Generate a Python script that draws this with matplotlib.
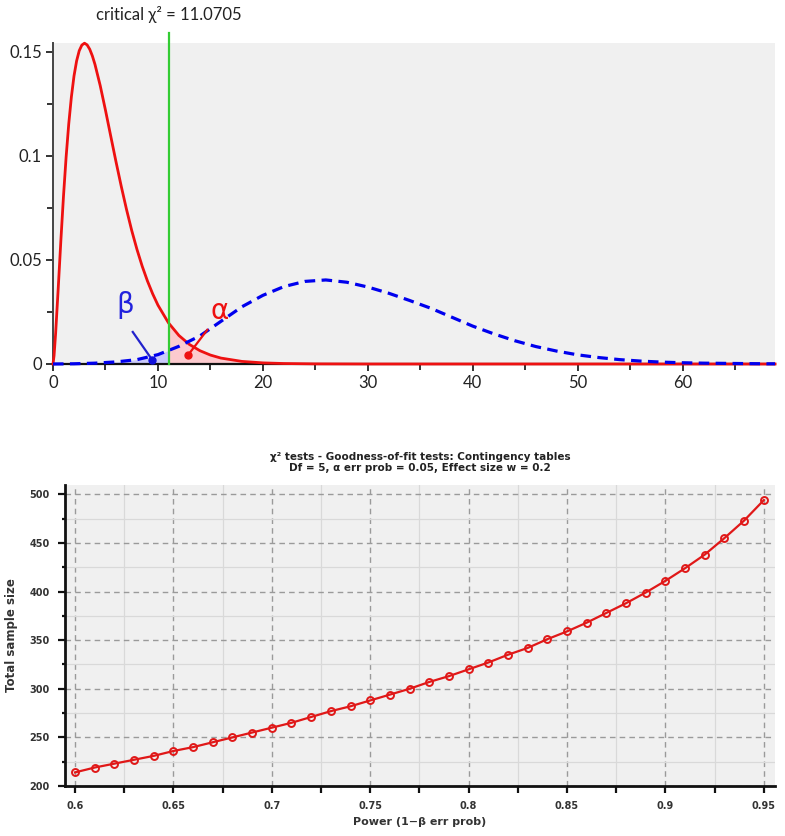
import numpy as np
import matplotlib
matplotlib.use("Agg")
import matplotlib.pyplot as plt
from matplotlib.ticker import MultipleLocator, FixedLocator

# ---------------- data: top panel (densities) ----------------
critical_value = 11.0705
central_x = [0, 0.1, 0.25, 0.5, 0.75, 1, 1.25, 1.5, 1.75, 2, 2.25, 2.5, 2.75, 3, 3.25,
             3.5, 3.75, 4, 4.5, 5, 5.5, 6, 6.5, 7, 7.5, 8, 8.5, 9, 9.5, 10,
             11, 12, 13, 14, 15, 16, 18, 20, 22, 25, 30, 40, 50, 60, 68.8]
central_y = [0, 0.0040, 0.0147, 0.0366, 0.0594, 0.0807, 0.0995, 0.1154, 0.1283, 0.1384,
             0.1457, 0.1506, 0.1533, 0.1542, 0.1534, 0.1513, 0.1481, 0.1440, 0.1338,
             0.1220, 0.1096, 0.0973, 0.0855, 0.0744, 0.0642, 0.0551, 0.0470, 0.0399,
             0.0337, 0.0283, 0.0198, 0.0137, 0.0094, 0.0064, 0.0043, 0.00285, 0.00125,
             0.00054, 0.00023, 0.00006, 0.0, 0.0, 0.0, 0.0, 0.0]
noncentral_x = [0, 2, 4, 6, 8, 10, 12, 14, 16, 18, 20, 22, 24, 26, 28, 30, 32, 34, 36,
                38, 40, 42, 44, 46, 48, 50, 52, 54, 56, 58, 60, 62, 64, 66, 68, 68.8]
noncentral_y = [0, 0.0001, 0.0004, 0.0010, 0.0021, 0.0045, 0.0085, 0.0135, 0.0205,
                0.0275, 0.0330, 0.0372, 0.0397, 0.0404, 0.0393, 0.0370, 0.0340, 0.0305,
                0.0268, 0.0225, 0.0182, 0.0145, 0.0112, 0.0084, 0.0062, 0.0044, 0.0031,
                0.0021, 0.0014, 0.0009, 0.0006, 0.0004, 0.0003, 0.0002, 0.0001, 0.0001]
top_yticks = [0, 0.05, 0.1, 0.15]
top_yticklabels = ["0", "0.05", "0.1", "0.15"]
top_xticks = [0, 10, 20, 30, 40, 50, 60]

# ---------------- data: bottom panel ----------------
power = [0.60, 0.61, 0.62, 0.63, 0.64, 0.65, 0.66, 0.67, 0.68, 0.69, 0.70, 0.71,
         0.72, 0.73, 0.74, 0.75, 0.76, 0.77, 0.78, 0.79, 0.80, 0.81, 0.82, 0.83,
         0.84, 0.85, 0.86, 0.87, 0.88, 0.89, 0.90, 0.91, 0.92, 0.93, 0.94, 0.95]
sample_size = [214, 219, 223, 227, 231, 236, 240, 245, 250, 255, 260, 265,
               271, 277, 282, 288, 294, 300, 307, 313, 320, 327, 335, 342,
               351, 359, 368, 378, 388, 399, 411, 424, 438, 455, 473, 494]
bottom_xticks = [0.6, 0.65, 0.7, 0.75, 0.8, 0.85, 0.9, 0.95]
bottom_xticklabels = ["0.6", "0.65", "0.7", "0.75", "0.8", "0.85", "0.9", "0.95"]
bottom_yticks = [200, 250, 300, 350, 400, 450, 500]
title_lines = ["χ² tests - Goodness-of-fit tests: Contingency tables",
               "Df = 5, α err prob = 0.05, Effect size w = 0.2"]

W, H = 785, 836
fig = plt.figure(figsize=(W / 100, H / 100), dpi=100)

def px_axes(l, t, r, b):
    return fig.add_axes([l / W, 1 - b / H, (r - l) / W, (b - t) / H])

# ================= TOP PANEL =================
ax = px_axes(53, 43, 775, 364)
ax.set_facecolor("#f0f0f0")
ax.set_xlim(0, 68.8)
ax.set_ylim(0, 0.1543)

cx = np.array(central_x); cy = np.array(central_y)
nx = np.array(noncentral_x); ny = np.array(noncentral_y)

# shaded areas
g_a = np.linspace(critical_value, 68.8, 300)
ax.fill_between(g_a, 0, np.interp(g_a, cx, cy), color="#ffc4c8", alpha=0.85, lw=0, zorder=1)
g_b = np.linspace(0, critical_value, 200)
ax.fill_between(g_b, 0, np.interp(g_b, nx, ny), color="#c4c4ff", alpha=0.85, lw=0, zorder=1)

ax.plot(cx, cy, color="#ee1111", lw=2.0, zorder=3, clip_on=False,
        solid_joinstyle="round")
ax.plot(nx, ny, color="#0000ee", lw=2.3, ls=(0, (3.3, 2.0)), zorder=4, clip_on=False)

ax.plot([critical_value, critical_value], [0, 0.1592], color="#33cc33", lw=1.6,
        zorder=5, clip_on=False)
ax.text(critical_value, 0.1678, "critical χ² = 11.0705", ha="center", va="center",
        fontsize=12, family="Lato", color="#222222")

# beta / alpha annotations
ax.text(6.9, 0.0284, "β", color="#2222dd", fontsize=20, ha="center", va="center",
        family="DejaVu Sans")
ax.plot([7.6, 9.45], [0.0154, 0.0020], color="#2222cc", lw=1.6, zorder=6)
ax.plot([9.45], [0.0020], "o", color="#1111dd", ms=5, zorder=6, clip_on=False)
ax.text(15.9, 0.0255, "α", color="#ee1111", fontsize=20, ha="center", va="center",
        family="DejaVu Sans")
ax.plot([14.7, 12.9], [0.0164, 0.0045], color="#ee1111", lw=1.6, zorder=6)
ax.plot([12.9], [0.0045], "o", color="#ee1111", ms=5, zorder=6)

for s in ["top", "right"]:
    ax.spines[s].set_visible(False)
ax.spines["left"].set_color("#444444")
ax.spines["left"].set_linewidth(1.4)
ax.spines["bottom"].set_color("#111111")
ax.spines["bottom"].set_linewidth(1.6)
ax.set_yticks(top_yticks)
ax.set_yticklabels(top_yticklabels)
ax.yaxis.set_minor_locator(MultipleLocator(0.025))
ax.set_xticks(top_xticks)
ax.xaxis.set_minor_locator(MultipleLocator(5))
ax.tick_params(axis="both", which="major", direction="out", length=5, width=1.4,
               color="#333333", labelsize=12, labelcolor="#222222", pad=3)
ax.tick_params(axis="both", which="minor", direction="out", length=4, width=1.4,
               color="#333333")
for lab in ax.get_xticklabels() + ax.get_yticklabels():
    lab.set_family("Lato")

# ================= BOTTOM PANEL =================
bx = px_axes(65, 485, 775, 786)
bx.set_facecolor("#f0f0f0")
bx.set_xlim(0.5949, 0.9557)
bx.set_ylim(200, 509.6)

bx.set_xticks(bottom_xticks)
bx.set_xticklabels(bottom_xticklabels)
bx.xaxis.set_minor_locator(FixedLocator([0.625, 0.675, 0.725, 0.775, 0.825, 0.875, 0.925]))
bx.set_yticks(bottom_yticks)
bx.yaxis.set_minor_locator(FixedLocator([225, 275, 325, 375, 425, 475]))
bx.grid(True, which="minor", color="#d9d9d9", lw=0.9, ls="-", zorder=0)
bx.grid(True, which="major", color="#9a9a9a", lw=1.0, ls=(0, (4, 3)), zorder=0)
bx.set_axisbelow(True)

bx.plot(power, sample_size, color="#e01818", lw=1.6, marker="o", ms=5,
        mfc="none", mec="#e01818", mew=1.4, zorder=3, clip_on=False)

for s in ["top", "right"]:
    bx.spines[s].set_visible(False)
for s in ["left", "bottom"]:
    bx.spines[s].set_color("#111111")
    bx.spines[s].set_linewidth(2.0)
bx.tick_params(axis="both", which="major", direction="out", length=5, width=1.6,
               color="#111111", labelsize=7, labelcolor="#333333", pad=6)
bx.tick_params(axis="y", which="minor", direction="out", length=2, width=1.6, color="#111111")
bx.tick_params(axis="x", which="minor", direction="out", length=5, width=1.6, color="#111111")
for lab in bx.get_xticklabels() + bx.get_yticklabels():
    lab.set_fontweight("bold")

bx.set_title("\n".join(title_lines), fontsize=7.5, fontweight="bold", color="#222222",
             pad=10, linespacing=1.2)
bx.set_xlabel("Power (1−β err prob)", fontsize=8, fontweight="bold", color="#333333",
              labelpad=4)
bx.set_ylabel("Total sample size", fontsize=8.5, fontweight="bold", color="#333333",
              labelpad=8)

fig.savefig("out.png", dpi=100, facecolor="white")
